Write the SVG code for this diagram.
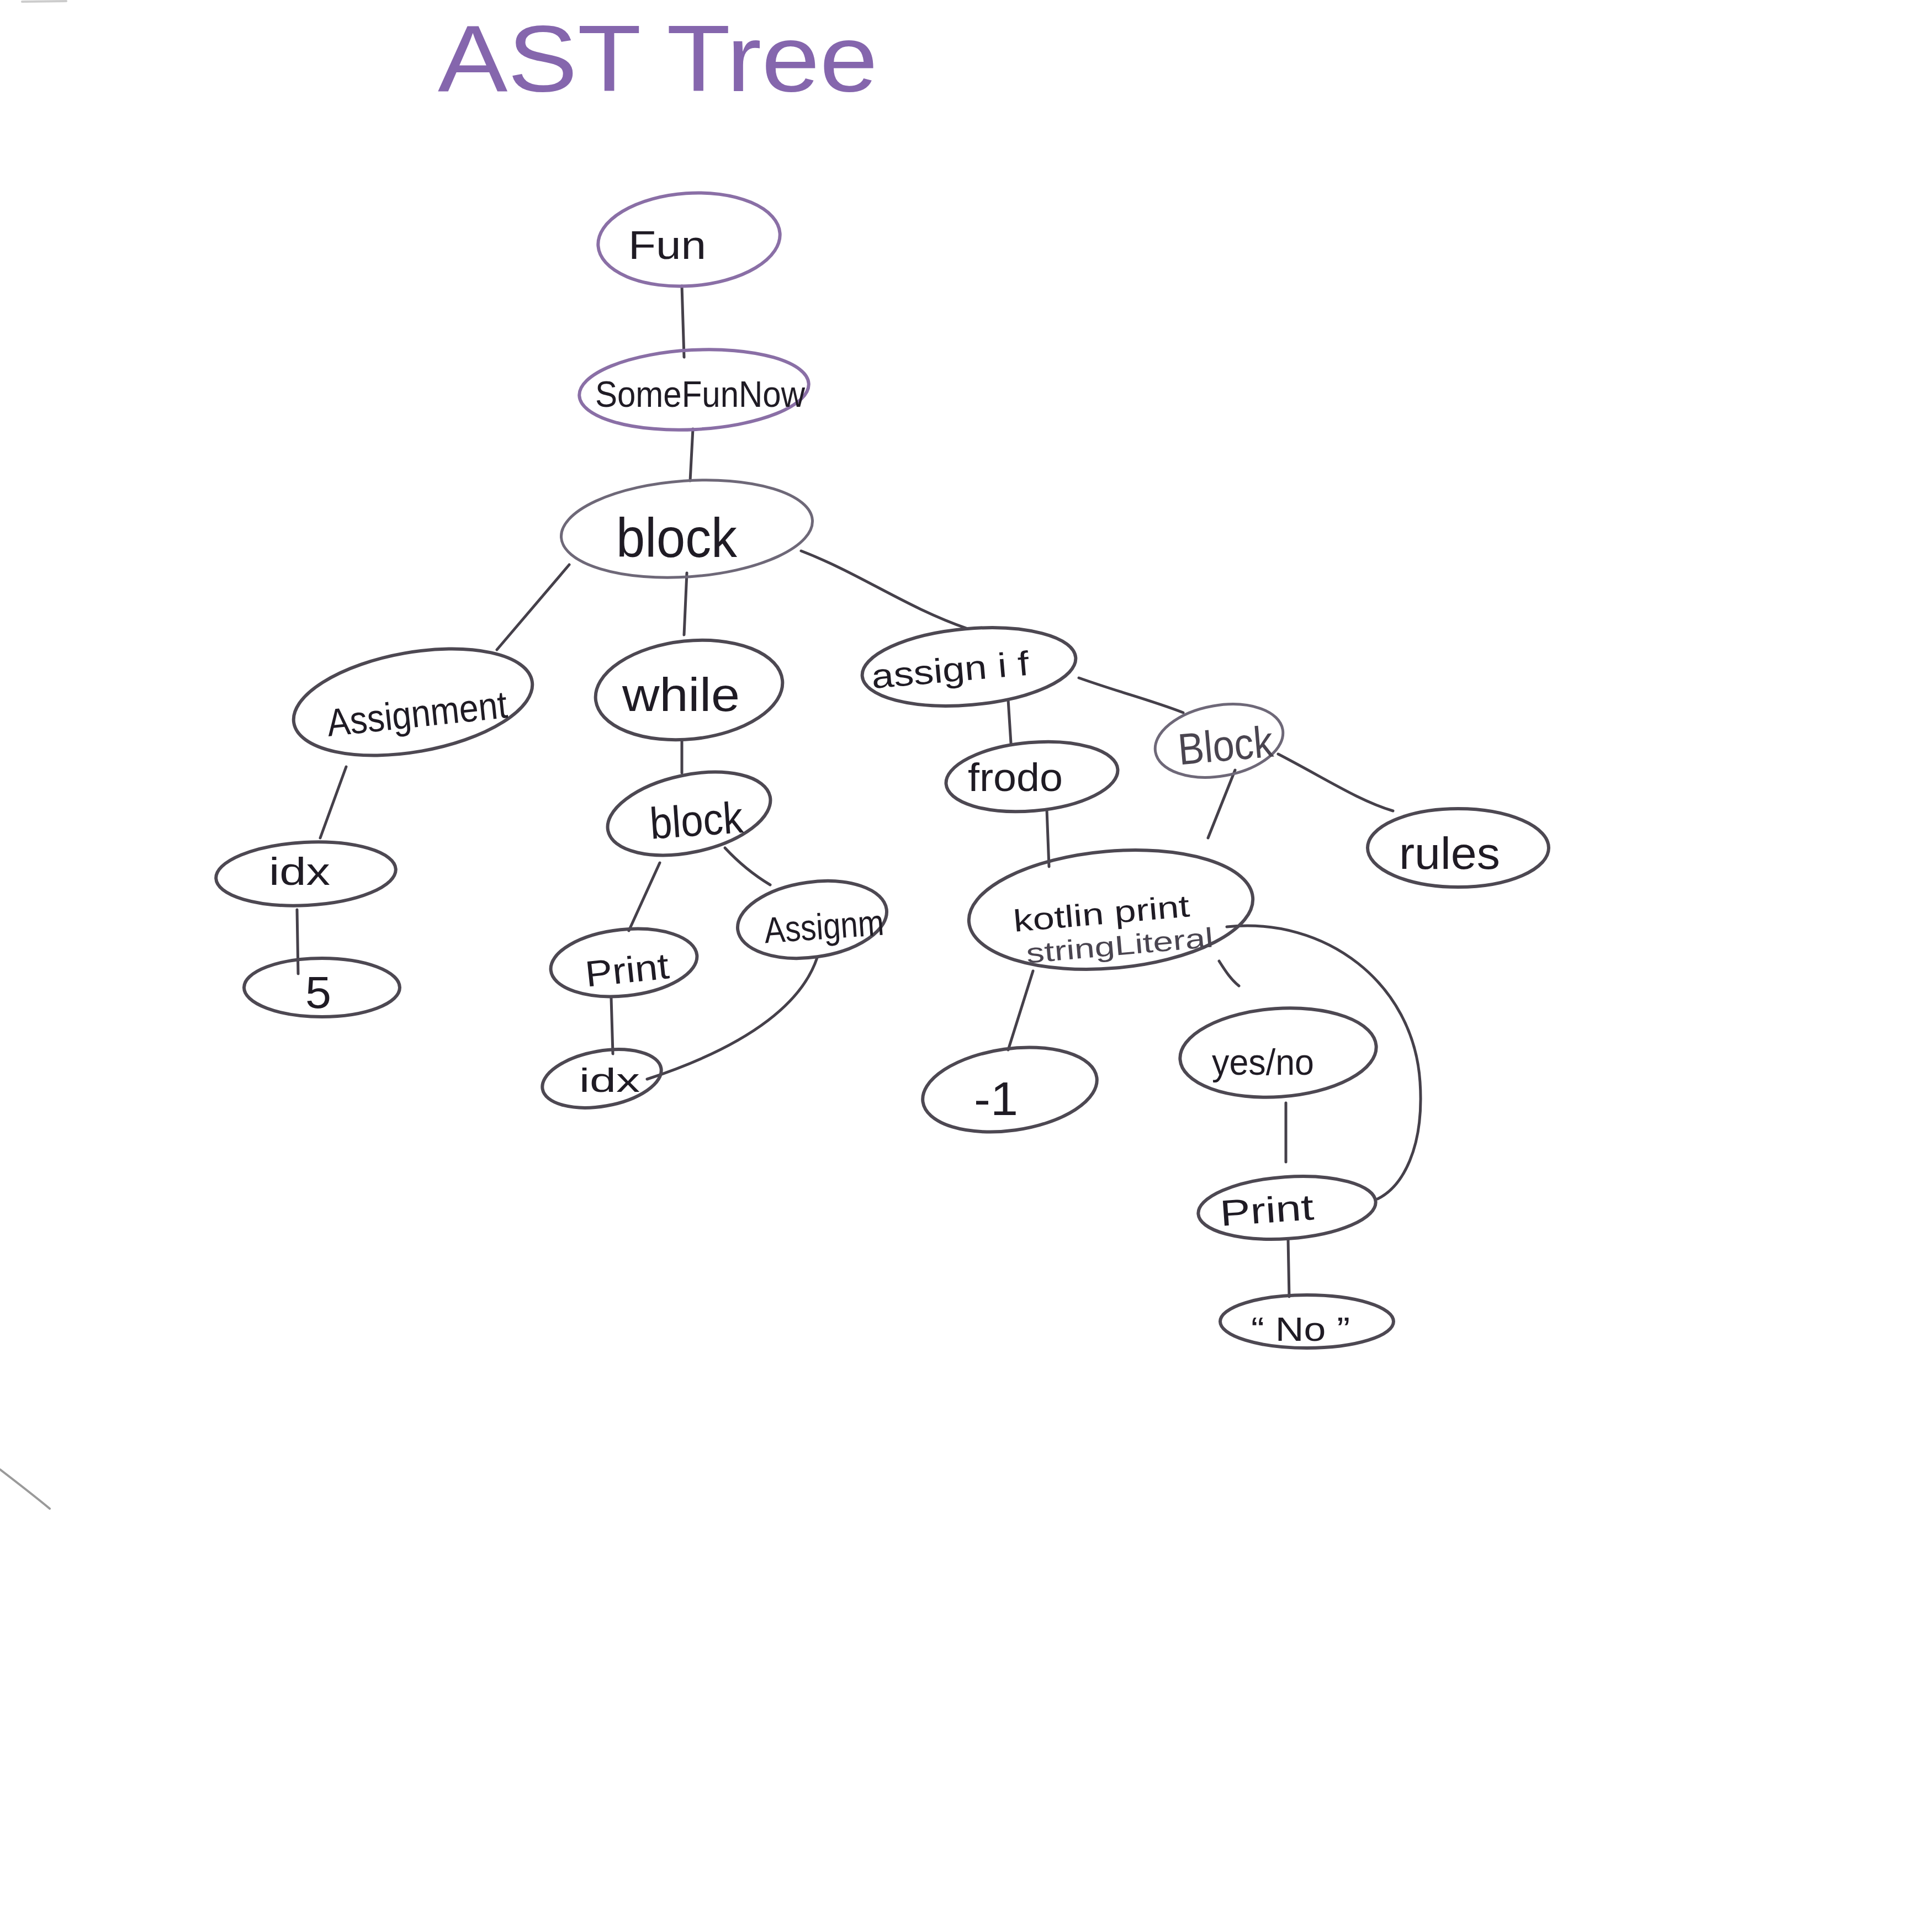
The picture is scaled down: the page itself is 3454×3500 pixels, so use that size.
<svg xmlns="http://www.w3.org/2000/svg" width="3454" height="3500" viewBox="0 0 3454 3500">
<style>
.bg{fill:#ffffff}
.n{fill:none;stroke:#4d4852;stroke-width:6}
.np{fill:none;stroke:#8a6fa6;stroke-width:6}
.nl{fill:none;stroke:#6e6878;stroke-width:5}
.c{fill:none;stroke:#45404a;stroke-width:5;stroke-linecap:round}
.t{font-family:"Liberation Sans","DejaVu Sans",sans-serif;fill:#1f1b24;text-anchor:start}
.tp{font-family:"Liberation Sans","DejaVu Sans",sans-serif;fill:#8566ad}
.tg{font-family:"Liberation Sans","DejaVu Sans",sans-serif;fill:#4a4550}
.stray{fill:none;stroke:#9a9a9a;stroke-width:4;stroke-linecap:round}
</style>
<rect class="bg" x="0" y="0" width="3454" height="3500"/>

<g id="title">
<text class="tp" x="793" y="165" font-size="170" textLength="797" lengthAdjust="spacingAndGlyphs">AST Tree</text>
</g>

<g id="connectors">
<path class="c" d="M1235,518 L1239,647"/>
<path class="c" d="M1255,777 L1250,871"/>
<path class="c" d="M1031,1023 L900,1177"/>
<path class="c" d="M1244,1038 L1239,1150"/>
<path class="c" d="M1451,998 C1560,1040 1640,1100 1753,1139"/>
<path class="c" d="M627,1389 L580,1518"/>
<path class="c" d="M538,1648 L540,1764"/>
<path class="c" d="M1235,1342 L1235,1400"/>
<path class="c" d="M1195,1563 L1139,1686"/>
<path class="c" d="M1313,1536 C1340,1565 1365,1585 1395,1603"/>
<path class="c" d="M1107,1808 L1110,1909"/>
<path class="c" d="M1480,1735 C1455,1810 1370,1890 1172,1955"/>
<path class="c" d="M1826,1268 L1831,1346"/>
<path class="c" d="M1954,1228 C2030,1255 2090,1270 2143,1291"/>
<path class="c" d="M2315,1366 C2400,1410 2460,1450 2523,1469"/>
<path class="c" d="M2237,1395 L2188,1518"/>
<path class="c" d="M1896,1467 L1900,1570"/>
<path class="c" d="M1871,1759 L1826,1902"/>
<path class="c" d="M2208,1741 C2220,1760 2230,1775 2244,1786"/>
<path class="c" d="M2222,1679 C2400,1660 2560,1780 2572,1960 C2580,2080 2540,2150 2495,2172"/>
<path class="c" d="M2329,1998 L2329,2105"/>
<path class="c" d="M2333,2244 L2335,2349"/>
</g>

<g id="node-fun">
<ellipse class="np" cx="1248" cy="434" rx="165" ry="84" transform="rotate(-4 1248 434)"/>
<text class="t" x="1138" y="469" font-size="72" textLength="141" lengthAdjust="spacingAndGlyphs">Fun</text>
</g>

<g id="node-somefunnow">
<ellipse class="np" cx="1257" cy="706" rx="208" ry="72" transform="rotate(-3 1257 706)"/>
<text class="t" x="1078" y="737" font-size="66" textLength="380" lengthAdjust="spacingAndGlyphs">SomeFunNow</text>
</g>

<g id="node-block">
<ellipse class="nl" cx="1244" cy="958" rx="228" ry="87" transform="rotate(-4 1244 958)"/>
<text class="t" x="1116" y="1009" font-size="100" textLength="219" lengthAdjust="spacingAndGlyphs">block</text>
</g>

<g id="node-assignment">
<ellipse class="n" cx="748" cy="1272" rx="219" ry="90" transform="rotate(-10 748 1272)"/>
<text class="t" x="592" y="1317" font-size="70" textLength="328" lengthAdjust="spacingAndGlyphs" transform="rotate(-6 756 1300)">Assignment</text>
</g>

<g id="node-idx1">
<ellipse class="n" cx="554" cy="1583" rx="163" ry="57" transform="rotate(-3 554 1583)"/>
<text class="t" x="487" y="1603" font-size="70" textLength="111" lengthAdjust="spacingAndGlyphs">idx</text>
</g>

<g id="node-5">
<ellipse class="n" cx="583" cy="1789" rx="141" ry="53"/>
<text class="t" x="553" y="1826" font-size="82" textLength="47" lengthAdjust="spacingAndGlyphs">5</text>
</g>

<g id="node-while">
<ellipse class="n" cx="1248" cy="1250" rx="170" ry="89" transform="rotate(-6 1248 1250)"/>
<text class="t" x="1127" y="1288" font-size="86" textLength="213" lengthAdjust="spacingAndGlyphs">while</text>
</g>

<g id="node-block2">
<ellipse class="n" cx="1248" cy="1474" rx="150" ry="70" transform="rotate(-12 1248 1474)"/>
<text class="t" x="1177" y="1514" font-size="80" textLength="169" lengthAdjust="spacingAndGlyphs" transform="rotate(-4 1260 1490)">block</text>
</g>

<g id="node-print1">
<ellipse class="n" cx="1130" cy="1744" rx="133" ry="60" transform="rotate(-6 1130 1744)"/>
<text class="t" x="1060" y="1780" font-size="66" textLength="152" lengthAdjust="spacingAndGlyphs" transform="rotate(-6 1136 1760)">Print</text>
</g>

<g id="node-assignment2">
<ellipse class="n" cx="1471" cy="1666" rx="136" ry="68" transform="rotate(-8 1471 1666)"/>
<text class="t" x="1384" y="1701" font-size="66" textLength="217" lengthAdjust="spacingAndGlyphs" transform="rotate(-4 1492 1680)">Assignm</text>
</g>

<g id="node-idx2">
<ellipse class="n" cx="1090" cy="1954" rx="109" ry="50" transform="rotate(-10 1090 1954)"/>
<text class="t" x="1049" y="1978" font-size="62" textLength="110" lengthAdjust="spacingAndGlyphs">idx</text>
</g>

<g id="node-assignif">
<ellipse class="n" cx="1755" cy="1208" rx="194" ry="69" transform="rotate(-5 1755 1208)"/>
<text class="t" x="1578" y="1235" font-size="62" textLength="286" lengthAdjust="spacingAndGlyphs" transform="rotate(-5 1720 1215)">assign i f</text>
</g>

<g id="node-frodo">
<ellipse class="n" cx="1869" cy="1407" rx="156" ry="62" transform="rotate(-5 1869 1407)"/>
<text class="t" x="1753" y="1433" font-size="72" textLength="172" lengthAdjust="spacingAndGlyphs">frodo</text>
</g>

<g id="node-block3">
<ellipse class="nl" cx="2208" cy="1342" rx="117" ry="64" transform="rotate(-10 2208 1342)"/>
<text class="tg" x="2134" y="1378" font-size="80" textLength="172" lengthAdjust="spacingAndGlyphs" transform="rotate(-5 2220 1355)">Block</text>
</g>

<g id="node-rules">
<ellipse class="n" cx="2641" cy="1536" rx="164" ry="71"/>
<text class="t" x="2534" y="1574" font-size="82" textLength="183" lengthAdjust="spacingAndGlyphs">rules</text>
</g>

<g id="node-kotlin">
<ellipse class="n" cx="2012" cy="1648" rx="258" ry="106" transform="rotate(-5 2012 1648)"/>
<text class="t" x="1835" y="1674" font-size="56" textLength="320" lengthAdjust="spacingAndGlyphs" transform="rotate(-5 1997 1655)">kotlin print</text>
<text class="tg" x="1858" y="1730" font-size="50" textLength="340" lengthAdjust="spacingAndGlyphs" transform="rotate(-5 2028 1712)">stringLiteral</text>
</g>

<g id="node-minus1">
<ellipse class="n" cx="1829" cy="1974" rx="159" ry="74" transform="rotate(-8 1829 1974)"/>
<text class="t" x="1764" y="2020" font-size="86" textLength="80" lengthAdjust="spacingAndGlyphs">-1</text>
</g>

<g id="node-yesno">
<ellipse class="n" cx="2315" cy="1907" rx="178" ry="80" transform="rotate(-4 2315 1907)"/>
<text class="t" x="2195" y="1947" font-size="66" textLength="185" lengthAdjust="spacingAndGlyphs">yes/no</text>
</g>

<g id="node-print2">
<ellipse class="n" cx="2331" cy="2188" rx="161" ry="56" transform="rotate(-4 2331 2188)"/>
<text class="t" x="2210" y="2215" font-size="66" textLength="170" lengthAdjust="spacingAndGlyphs" transform="rotate(-4 2295 2200)">Print</text>
</g>

<g id="node-no">
<ellipse class="n" cx="2367" cy="2394" rx="157" ry="48"/>
<text class="t" x="2266" y="2429" font-size="62" textLength="179" lengthAdjust="spacingAndGlyphs">“ No ”</text>
</g>

<g id="marks">
<path class="stray" d="M0,2662 C30,2685 60,2708 90,2733"/>
<path class="stray" d="M40,3 L120,2" stroke-opacity="0.5"/>
</g>
</svg>
